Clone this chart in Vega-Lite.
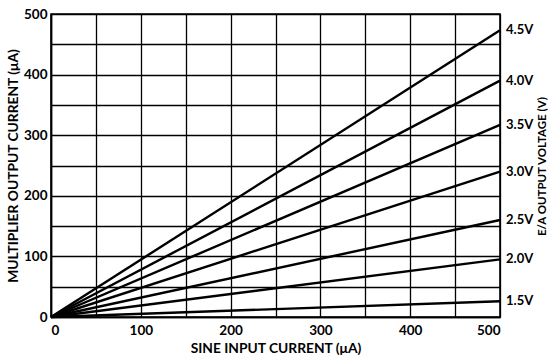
{
  "$schema": "https://vega.github.io/schema/vega-lite/v6.json",
  "width": 449,
  "height": 303,
  "autosize": {"type": "none"},
  "padding": {"left": 51, "top": 14, "right": 49, "bottom": 42},
  "background": "white",
  "config": {
    "font": "Lato",
    "view": {"stroke": "black", "strokeWidth": 1.6},
    "axis": {
      "labelFont": "Lato",
      "labelFontWeight": "bold",
      "labelFontSize": 13.5,
      "labelColor": "black",
      "titleFont": "Lato",
      "titleFontWeight": "bold",
      "titleFontSize": 13.8,
      "titleColor": "black",
      "gridColor": "black",
      "gridOpacity": 1,
      "gridWidth": 1.3,
      "domainColor": "black",
      "domainWidth": 1.6,
      "ticks": false
    }
  },
  "data": {
    "values": [
      {"v": "1.5V", "x": 0, "y": 0}, {"v": "1.5V", "x": 500, "y": 26},
      {"v": "2.0V", "x": 0, "y": 0}, {"v": "2.0V", "x": 500, "y": 95},
      {"v": "2.5V", "x": 0, "y": 0}, {"v": "2.5V", "x": 500, "y": 160},
      {"v": "3.0V", "x": 0, "y": 0}, {"v": "3.0V", "x": 500, "y": 240},
      {"v": "3.5V", "x": 0, "y": 0}, {"v": "3.5V", "x": 500, "y": 317},
      {"v": "4.0V", "x": 0, "y": 0}, {"v": "4.0V", "x": 500, "y": 390},
      {"v": "4.5V", "x": 0, "y": 0}, {"v": "4.5V", "x": 500, "y": 473}
    ]
  },
  "layer": [
    {
      "mark": {"type": "line", "color": "black", "strokeWidth": 2.4},
      "encoding": {
        "x": {
          "field": "x", "type": "quantitative",
          "scale": {"domain": [0, 500], "nice": false},
          "axis": {
            "values": [0, 50, 100, 150, 200, 250, 300, 350, 400, 450, 500],
            "labelExpr": "datum.value % 100 == 0 ? datum.label : ''",
            "title": "SINE INPUT CURRENT (μA)",
            "labelPadding": 6,
            "titlePadding": 5
          }
        },
        "y": {
          "field": "y", "type": "quantitative",
          "scale": {"domain": [0, 500], "nice": false},
          "axis": {
            "values": [0, 50, 100, 150, 200, 250, 300, 350, 400, 450, 500],
            "labelExpr": "datum.value % 100 == 0 ? datum.label : ''",
            "title": "MULTIPLIER OUTPUT CURRENT (μA)",
            "labelPadding": 4,
            "titlePadding": 3
          }
        },
        "detail": {"field": "v"}
      }
    },
    {
      "transform": [{"filter": "datum.x == 500"}],
      "mark": {"type": "text", "align": "left", "baseline": "middle", "dx": 6, "fontWeight": "bold", "fontSize": 13, "color": "black"},
      "encoding": {
        "x": {"field": "x", "type": "quantitative"},
        "y": {
          "field": "y", "type": "quantitative",
          "scale": {"domain": [0, 500], "nice": false},
          "axis": {
            "orient": "right",
            "title": "E/A OUTPUT VOLTAGE (V)",
            "titleFontSize": 11.5,
            "labels": false,
            "ticks": false,
            "domain": false,
            "grid": false,
            "titleAngle": 270,
            "titleBaseline": "middle",
            "titleY": 152,
            "titlePadding": 42
          }
        },
        "text": {"field": "v"}
      }
    }
  ],
  "resolve": {"scale": {"y": "independent"}}
}
